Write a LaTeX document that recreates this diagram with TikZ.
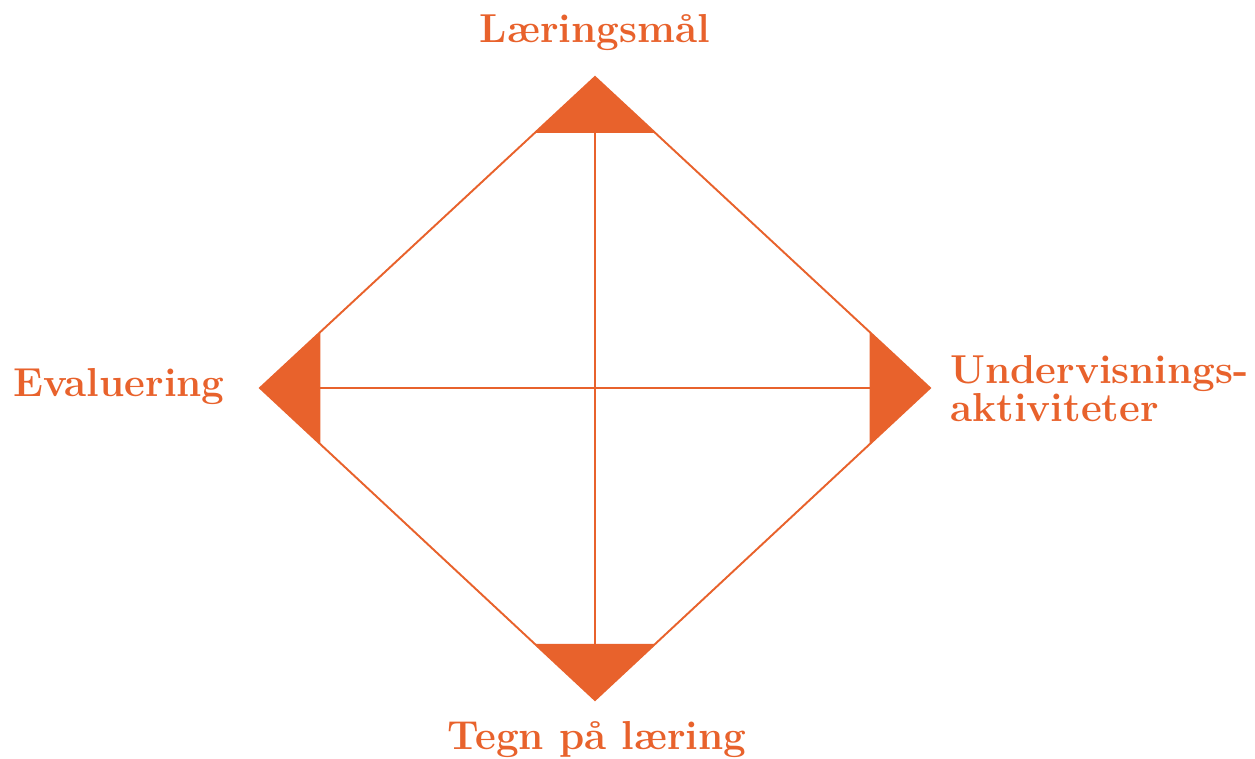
\documentclass[tikz,border=0pt]{standalone}
\usepackage{fontspec}
\usetikzlibrary{positioning,calc}
\definecolor{modelorange}{HTML}{E8622C}

\begin{document}
\begin{tikzpicture}[x=0.02cm,y=-0.02cm,
 lbl/.style={font=\fontsize{23}{22}\selectfont\bfseries,text=modelorange,inner sep=0pt},
 side/.style={draw=modelorange,line width=1.1pt},
 corner/.style={fill=modelorange}]
\useasboundingbox (0,0) rectangle (1255,759);
\coordinate (top) at (595,77);
\coordinate (rgt) at (930,388);
\coordinate (bot) at (595,700);
\coordinate (lft) at (260,388);
% filled tips at the four corners
\fill[corner] (top) -- ($(top)!0.18!(lft)$) coordinate (tl) -- ($(top)!0.18!(rgt)$) coordinate (tr) -- cycle;
\fill[corner] (rgt) -- ($(rgt)!0.18!(top)$) coordinate (rt) -- ($(rgt)!0.18!(bot)$) coordinate (rb) -- cycle;
\fill[corner] (bot) -- ($(bot)!0.18!(rgt)$) coordinate (br) -- ($(bot)!0.18!(lft)$) coordinate (bl) -- cycle;
\fill[corner] (lft) -- ($(lft)!0.18!(bot)$) coordinate (lb) -- ($(lft)!0.18!(top)$) coordinate (lt) -- cycle;
\draw[side] (top) -- (rgt) -- (bot) -- (lft) -- cycle;
% cross
\draw[side] ($(tl)!0.5!(tr)$) -- ($(bl)!0.5!(br)$);
\draw[side] ($(lt)!0.5!(lb)$) -- ($(rt)!0.5!(rb)$);
\node[lbl,anchor=base] (goal) at (595,43) {Læringsmål};
\node[lbl,anchor=base] (signs) at (597,750) {Tegn på læring};
\node[lbl,anchor=base east] (eval) at (225,397) {Evaluering};
\node[lbl,anchor=base west,align=left] (teach) at (950,422) {Undervisnings-\\aktiviteter};
\end{tikzpicture}
\end{document}
